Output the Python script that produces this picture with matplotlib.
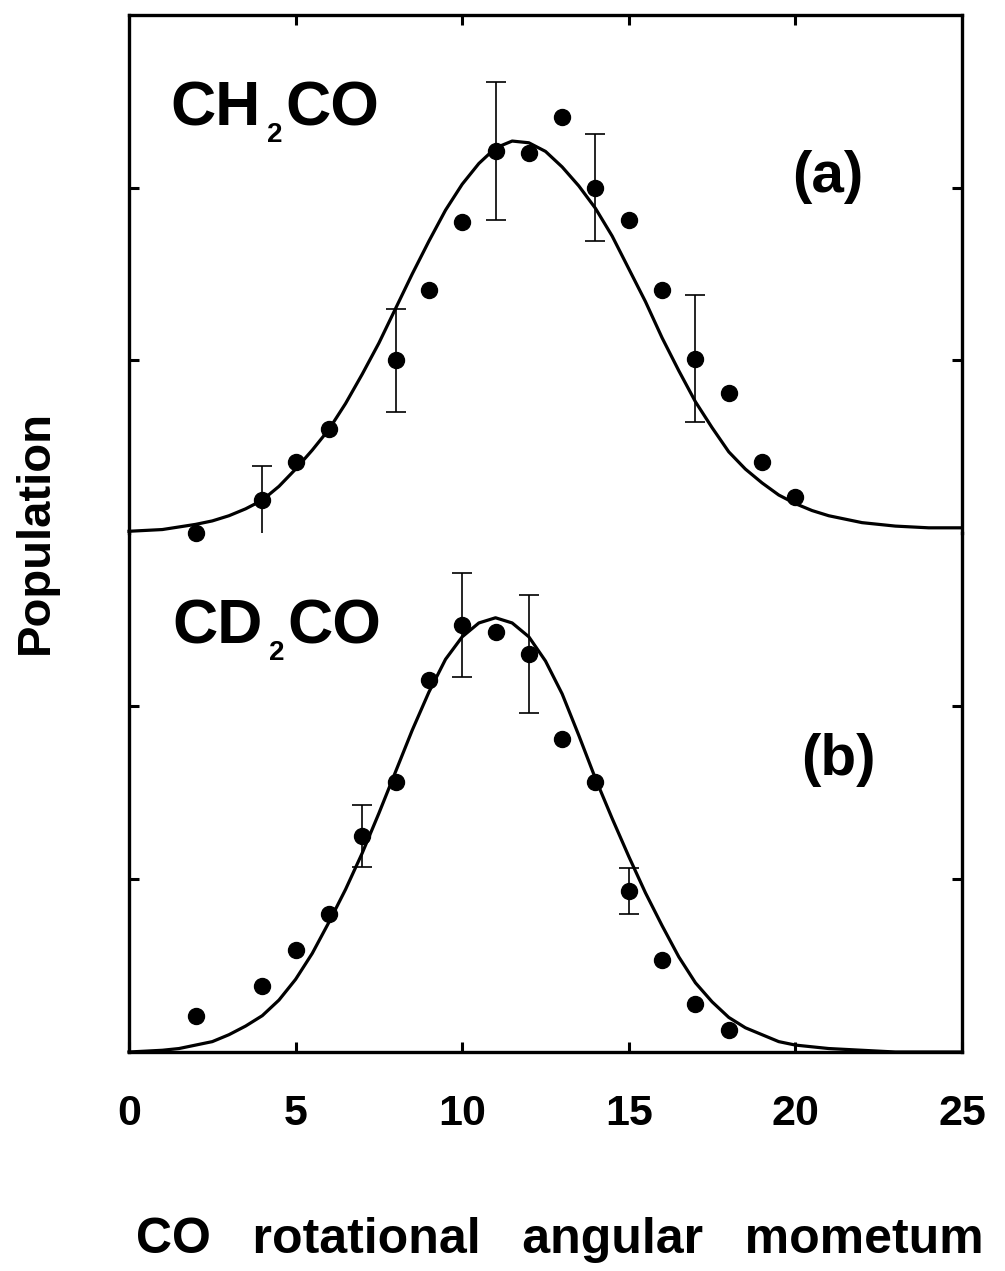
import matplotlib
matplotlib.use("Agg")
import matplotlib.pyplot as plt

# CH2CO panel (a): measured points, error bars, fitted curve
a_j = [2, 4, 5, 6, 8, 9, 10, 11, 12, 13, 14, 15, 16, 17, 18, 19, 20]
a_pop = [0.0, 0.19, 0.41, 0.60, 1.00, 1.41, 1.80, 2.21, 2.20, 2.41,
         2.00, 1.81, 1.41, 1.01, 0.81, 0.41, 0.21]
a_err_j = [4, 8, 11, 14, 17]
a_err_pop = [0.19, 1.00, 2.21, 2.00, 1.01]
a_err = [0.20, 0.30, 0.40, 0.31, 0.37]
a_fit_j = [0, 0.5, 1, 1.5, 2, 2.5, 3, 3.5, 4, 4.5, 5, 5.5, 6, 6.5, 7, 7.5,
           8, 8.5, 9, 9.5, 10, 10.5, 11, 11.5, 12, 12.5, 13, 13.5, 14, 14.5,
           15, 15.5, 16, 16.5, 17, 17.5, 18, 18.5, 19, 19.5, 20, 20.5, 21,
           21.5, 22, 22.5, 23, 23.5, 24, 24.5, 25]
a_fit = [0.01, 0.015, 0.02, 0.035, 0.05, 0.07, 0.10, 0.14, 0.19, 0.27,
         0.37, 0.48, 0.60, 0.75, 0.92, 1.10, 1.30, 1.50, 1.69, 1.87, 2.02,
         2.14, 2.23, 2.27, 2.26, 2.21, 2.12, 2.01, 1.88, 1.72, 1.53, 1.34,
         1.13, 0.94, 0.76, 0.61, 0.47, 0.37, 0.29, 0.22, 0.17, 0.13, 0.10,
         0.08, 0.06, 0.05, 0.04, 0.035, 0.03, 0.03, 0.03]

# CD2CO panel (b)
b_j = [2, 4, 5, 6, 7, 8, 9, 10, 11, 12, 13, 14, 15, 16, 17, 18]
b_pop = [0.21, 0.38, 0.59, 0.80, 1.25, 1.56, 2.15, 2.47, 2.43, 2.30,
         1.81, 1.56, 0.93, 0.53, 0.28, 0.13]
b_err_j = [7, 10, 12, 15]
b_err_pop = [1.25, 2.47, 2.30, 0.93]
b_err = [0.18, 0.30, 0.34, 0.135]
b_fit_j = [0, 0.5, 1, 1.5, 2, 2.5, 3, 3.5, 4, 4.5, 5, 5.5, 6, 6.5, 7, 7.5,
           8, 8.5, 9, 9.5, 10, 10.5, 11, 11.5, 12, 12.5, 13, 13.5, 14, 14.5,
           15, 15.5, 16, 16.5, 17, 17.5, 18, 18.5, 19, 19.5, 20, 20.5, 21,
           21.5, 22, 22.5, 23, 24, 25]
b_fit = [0.0, 0.005, 0.01, 0.02, 0.04, 0.06, 0.10, 0.15, 0.21, 0.30, 0.42,
         0.57, 0.75, 0.94, 1.15, 1.38, 1.62, 1.86, 2.08, 2.27, 2.40, 2.48,
         2.51, 2.48, 2.40, 2.26, 2.07, 1.83, 1.58, 1.35, 1.13, 0.92, 0.73,
         0.55, 0.40, 0.29, 0.20, 0.14, 0.10, 0.06, 0.04, 0.03, 0.02, 0.015,
         0.01, 0.005, 0.0, 0.0, 0.0]

x_ticks = [0, 5, 10, 15, 20, 25]
W, H = 1005, 1271
FONT = "Liberation Sans"

fig = plt.figure(figsize=(W / 100, H / 100), dpi=100)
left, right = 129 / W, 962 / W
ax_b = fig.add_axes([left, 1 - 1052 / H, right - left, 519 / H])
ax_a = fig.add_axes([left, 1 - 533 / H, right - left, 518 / H])
ax_a.patch.set_visible(False)
ax_b.patch.set_visible(False)


def style(ax, top):
    ax.set_xlim(0, 25)
    ax.set_ylim(0, 3)
    for s in ax.spines.values():
        s.set_linewidth(2.4)
    ax.spines["bottom" if top else "top"].set_visible(False)
    ax.set_yticks([1, 2])
    ax.set_xticks([5, 10, 15, 20])
    ax.tick_params(direction="in", length=7, width=2.2, left=True,
                   right=True, top=top, bottom=not top,
                   labelleft=False, labelbottom=False)


def panel(ax, j, pop, ej, ep, err, fj, fit):
    ax.plot(fj, fit, color="black", lw=2.3, clip_on=False, zorder=2)
    ax.errorbar(ej, ep, yerr=err, fmt="none", ecolor="black", elinewidth=1.2,
                capsize=7, capthick=1.2, zorder=3)
    ax.plot(j, pop, "o", color="black", ms=11.5, clip_on=False, zorder=4)


style(ax_a, True)
style(ax_b, False)
panel(ax_a, a_j, a_pop, a_err_j, a_err_pop, a_err, a_fit_j, a_fit)
panel(ax_b, b_j, b_pop, b_err_j, b_err_pop, b_err, b_fit_j, b_fit)

# bottom tick labels
ax_b.set_xticks(x_ticks)
ax_b.set_xticklabels([str(t) for t in x_ticks], fontsize=31,
                     fontweight="bold", family=FONT)
ax_b.tick_params(axis="x", labelbottom=True, pad=30)

renderer = fig.canvas.get_renderer()


def formula(x, y, main1, sub, main2):
    # x, y in pixels from top-left, y is the baseline
    t1 = fig.text(x / W, 1 - y / H, main1, fontsize=45, fontweight="bold",
                  family=FONT, va="baseline")
    e1 = t1.get_window_extent(renderer)
    t2 = fig.text((e1.x1 + 7) / W, 1 - (y + 17) / H, sub, fontsize=20,
                  fontweight="bold", family=FONT, va="baseline")
    e2 = t2.get_window_extent(renderer)
    fig.text((e2.x1 + 3) / W, 1 - y / H, main2, fontsize=45,
             fontweight="bold", family=FONT, va="baseline")


formula(170, 125, "CH", "2", "CO")
formula(172, 643, "CD", "2", "CO")

fig.text(828 / W, 1 - 177 / H, "(a)", fontsize=42, fontweight="bold",
         family=FONT, ha="center", va="center")
fig.text(838 / W, 1 - 760 / H, "(b)", fontsize=42, fontweight="bold",
         family=FONT, ha="center", va="center")

fig.text(36 / W, 1 - 532 / H, "Population", fontsize=34, fontweight="bold",
         family=FONT, rotation=90, ha="center", va="center")
fig.text(560 / W, 1 - 1240 / H, "CO   rotational   angular   mometum",
         fontsize=36, fontweight="bold", family=FONT, ha="center",
         va="center")

fig.savefig("out.png", dpi=100)
